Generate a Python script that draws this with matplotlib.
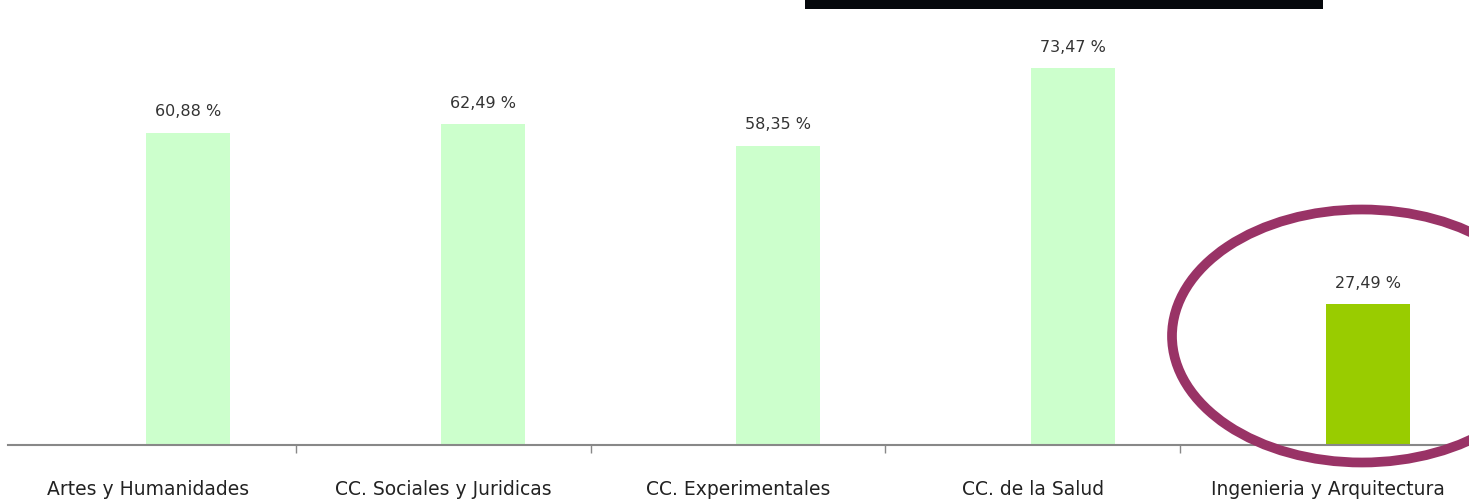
import matplotlib.pyplot as plt
from matplotlib.patches import Ellipse, Rectangle

categorias = ['Artes y Humanidades', 'CC. Sociales y Juridicas', 'CC. Experimentales',
              'CC. de la Salud', 'Ingenieria y Arquitectura']
valores = [60.88, 62.49, 58.35, 73.47, 27.49]
etiquetas = ['60,88 %', '62,49 %', '58,35 %', '73,47 %', '27,49 %']
colores = ['#ccffcc', '#ccffcc', '#ccffcc', '#ccffcc', '#99cc00']

plt.rcParams['font.family'] = ['DejaVu Sans']

W, H = 1469, 504
fig = plt.figure(figsize=(W / 100, H / 100), dpi=100)
base = 445
ax = fig.add_axes([8 / W, (H - base) / H, (W - 8) / W, base / H])

x = list(range(len(categorias)))
offset = 0.136
ancho = 0.285
xb = [i + offset for i in x]
ax.bar(xb, valores, width=ancho, color=colores)

# etiquetas de valor
for xi, v, t in zip(xb, valores, etiquetas):
    ax.text(xi, v + 2.6, t, ha='center', va='bottom', fontsize=11.5, color='#333333')

ax.set_xlim(-0.4746, 4.478)
ax.set_ylim(0, 86.7)
ax.set_xticks(x)
ax.set_xticklabels(categorias, fontsize=13.5, color='#222222')
ax.set_xticks([0.5, 1.5, 2.5, 3.5], minor=True)
ax.tick_params(axis='x', which='major', length=0, pad=25)
ax.tick_params(axis='x', which='minor', length=6, width=1, color='#888888', direction='out')
ax.set_yticks([])
for s in ['top', 'right', 'left']:
    ax.spines[s].set_visible(False)
ax.spines['bottom'].set_color('#888888')
ax.spines['bottom'].set_linewidth(1.5)

# elipse resaltando la ultima categoria
elipse = Ellipse((1362 / W, 1 - 336 / H), 380 / W, 253 / H, transform=fig.transFigure,
                 fill=False, edgecolor='#993366', linewidth=7, clip_on=False)
fig.add_artist(elipse)

# recuadro negro arriba
caja = Rectangle((805 / W, 1 - 9 / H), 518 / W, 9 / H, transform=fig.transFigure,
                 facecolor='#05080c', edgecolor='none')
fig.add_artist(caja)

fig.savefig('out.png', dpi=100)
